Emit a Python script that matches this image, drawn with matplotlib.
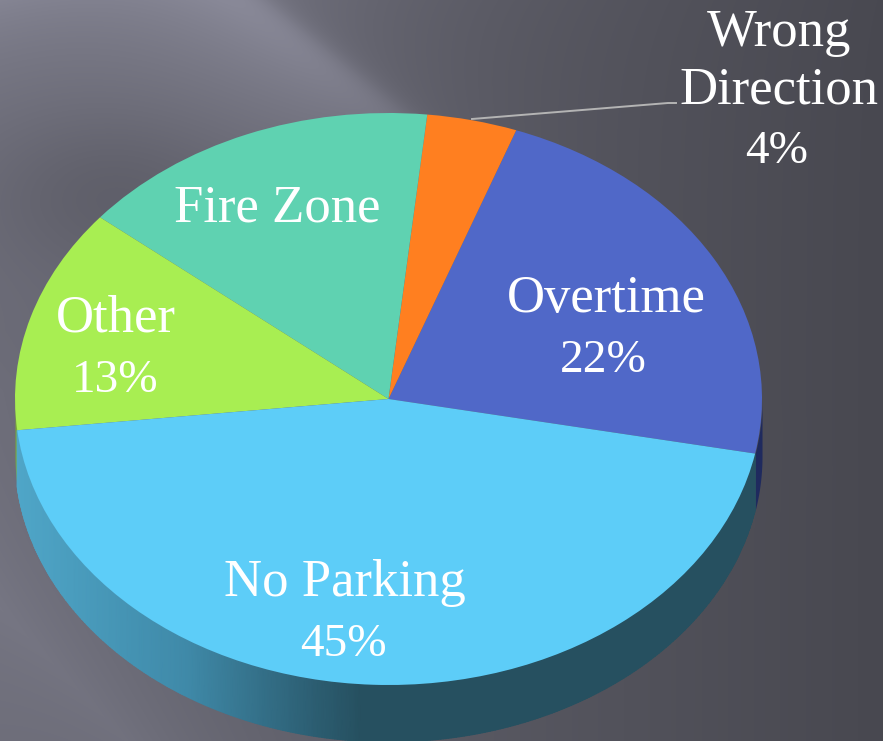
import numpy as np
import matplotlib
matplotlib.use('Agg')
import matplotlib.pyplot as plt
from matplotlib.colors import LinearSegmentedColormap

W, H = 883, 741

# Slices, counter-clockwise from the lower right edge of Overtime
categories = ['Overtime', 'Wrong Direction', 'Fire Zone', 'Other', 'No Parking']
values = [22.5, 3.9, 15.7, 12.7, 45.2]
colors = ['#5068C8', '#FF7F20', '#5FD2B1', '#A8EE52', '#5DCDF8']
wall_colors = ['#1F2A5E', '#A0500F', '#3A8570', '#7BA83A', '#265060']

# Text as shown on the slide (Fire Zone has no percentage there)
name_text = ['Overtime', 'Wrong', 'Direction', 'Fire Zone', 'Other', 'No Parking']
name_pos = [(606, 312), (779, 46), (779, 103), (277, 222), (116, 332), (345, 596)]
pct_text = ['22%', '4%', '13%', '45%']
pct_pos = [(603, 372), (777, 163), (115, 392), (343, 656)]

start_angle = -11
cx, cy, rx, ry = 388.5, 399, 373.5, 286
depth = 57

fig = plt.figure(figsize=(W / 100, H / 100), dpi=100)

# Background: dark gray with a soft light streak from the top left
bg = fig.add_axes([0, 0, 1, 1])
yy, xx = np.mgrid[0:H, 0:W]
shade = 106 - 34 * xx / W
s = ((xx - 262) * 113 - yy * 140) / 180
along = ((xx - 262) * 140 + yy * 113) / 180
edge = 0.5 * (1 - np.tanh(s / 14))
fade = np.exp(-(along - 40) ** 2 / (2 * 190 ** 2))
shade = shade + 40 * edge * np.exp(np.minimum(s, 0) / 120) * fade
shade = shade + 10 * (1 - edge) * np.exp(-np.maximum(s, 0) / 70) * fade
shade = shade + 22 * np.exp(-yy / 70) * np.exp(-xx / 260)
s2 = (xx + 60) * 0.72 - (yy - 560) * 0.69
shade = shade + 12 * np.exp(-np.abs(s2 - 10) / 90) * np.clip((450 - xx) / 60, 0, 1) * np.clip((yy - 330) / 60, 0, 1)
shade = shade - 12 * np.exp(-((xx - 110) ** 2 / 16000 + (yy - 190) ** 2 / 6000))
rgb = np.dstack([shade, shade, shade * 1.11]) / 255
bg.imshow(np.clip(rgb, 0, 1), extent=[0, W, H, 0], aspect='auto')
bg.set_xlim(0, W)
bg.set_ylim(H, 0)
bg.axis('off')

# Pie axes spans exactly the ellipse so the circle gets squashed
ax = fig.add_axes([(cx - rx) / W, 1 - (cy + ry) / H, 2 * rx / W, 2 * ry / H])
ax.patch.set_alpha(0)

edges = start_angle + np.concatenate([[0], np.cumsum(values)]) / np.sum(values) * 360
d = depth / ry

# Side wall, only the part facing the viewer
for i in range(len(values)):
    lo, hi = edges[i], edges[i + 1]
    for a, b in [(lo, min(hi, 0)), (max(lo, 180), min(hi, 360))]:
        if b <= a:
            continue
        t = np.radians(np.linspace(a, b, 400))
        if i == len(values) - 1:
            cmap = LinearSegmentedColormap.from_list('wall', [(0, '#4FA6C8'), (0.29, '#3F89A8'),
                                                               (0.5, '#2C5E72'), (0.58, '#265060'), (1, '#265060')])
            X = np.vstack([np.cos(t), np.cos(t)])
            Y = np.vstack([np.sin(t), np.sin(t) - d])
            C = np.vstack([(np.cos(t) + 1) / 2 / 0.8, (np.cos(t) + 1) / 2 / 0.8])
            ax.pcolormesh(X, Y, C, cmap=cmap, vmin=0, vmax=1, shading='gouraud', clip_on=False)
        else:
            ax.fill_between(np.cos(t), np.sin(t), np.sin(t) - d, color=wall_colors[i], lw=0, clip_on=False)

ax.pie(values, colors=colors, startangle=start_angle, radius=1, counterclock=True,
       wedgeprops={'linewidth': 0, 'clip_on': False})
ax.set_aspect('auto')
ax.set_xlim(-1, 1)
ax.set_ylim(-1, 1)

# Leader line for the small slice
top = fig.add_axes([0, 0, 1, 1])
top.patch.set_alpha(0)
top.set_xlim(0, W)
top.set_ylim(H, 0)
top.axis('off')
top.plot([472, 668, 676], [119, 103, 103], color='#B4B4B4', lw=1.4)

for txt, (x, y) in zip(name_text, name_pos):
    top.text(x, y, txt, color='white', ha='center', va='baseline', fontsize=38, family='Liberation Serif')
for txt, (x, y) in zip(pct_text, pct_pos):
    top.text(x, y, txt, color='white', ha='center', va='baseline', fontsize=34, family='Liberation Serif')

fig.savefig('out.png', dpi=100)
